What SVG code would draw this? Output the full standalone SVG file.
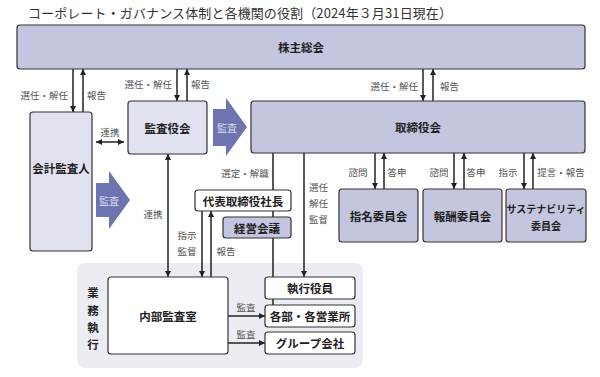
<svg xmlns="http://www.w3.org/2000/svg" width="600" height="377" viewBox="0 0 600 377">
<defs>
<style>
text{font-family:"Noto Sans CJK JP","Liberation Sans",sans-serif;}
.title{font-size:13px;fill:#333;}
.box{stroke:#333;stroke-width:1.2;}
.dark{fill:#c4c6e0;}
.light{fill:#e1e2f0;}
.white{fill:#fff;}
.bl{font-size:11.5px;font-weight:bold;fill:#222;text-anchor:middle;dominant-baseline:central;}
.sm{font-size:10px;}
.lb{font-size:9.5px;fill:#555;dominant-baseline:central;}
.c{text-anchor:middle;}
.e{text-anchor:end;}
.ln{stroke:#222;stroke-width:1.5;fill:none;}
.ar{marker-end:url(#ah);}
.ar2{marker-end:url(#ah);marker-start:url(#ah);}
.big{fill:#6e74b1;}
.bt{font-size:10px;fill:#dcdff2;text-anchor:middle;dominant-baseline:central;}
</style>
<marker id="ah" markerUnits="userSpaceOnUse" markerWidth="7" markerHeight="7" refX="6" refY="3" orient="auto-start-reverse"><path d="M0,0 L6,3 L0,6 z" fill="#222"/></marker>
</defs>
<rect width="600" height="377" fill="#fff"/>
<text class="title" x="28" y="18" textLength="424" lengthAdjust="spacing">コーポレート・ガバナンス体制と各機関の役割（2024年３月31日現在）</text>

<g id="gyomu-panel">
<rect x="77" y="263" width="286" height="105" rx="8" fill="#ececf3"/>
<text class="bl" x="93" y="292">業</text>
<text class="bl" x="93" y="310">務</text>
<text class="bl" x="93" y="327">執</text>
<text class="bl" x="93" y="344">行</text>
</g>

<g id="connectors">
<line class="ln ar" x1="73" y1="69" x2="73" y2="112"/>
<line class="ln ar" x1="83" y1="112" x2="83" y2="69"/>
<line class="ln ar" x1="177" y1="69" x2="177" y2="101"/>
<line class="ln ar" x1="187" y1="101" x2="187" y2="69"/>
<line class="ln ar" x1="423" y1="69" x2="423" y2="101"/>
<line class="ln ar" x1="433" y1="101" x2="433" y2="69"/>
<line class="ln ar2" x1="96" y1="142" x2="124" y2="142"/>
<line class="ln ar2" x1="168" y1="154" x2="168" y2="277"/>
<line class="ln" x1="273" y1="153" x2="273" y2="190"/>
<line class="ln" x1="273" y1="211" x2="273" y2="277"/>
<line class="ln" x1="273" y1="299" x2="273" y2="305"/>
<line class="ln ar" x1="304" y1="153" x2="304" y2="277"/>
<line class="ln ar" x1="202" y1="211" x2="202" y2="277"/>
<line class="ln ar" x1="211" y1="277" x2="211" y2="211"/>
<line class="ln ar" x1="228" y1="316" x2="265" y2="316"/>
<line class="ln ar" x1="228" y1="343" x2="265" y2="343"/>
<line class="ln ar" x1="375" y1="153" x2="375" y2="189"/>
<line class="ln ar" x1="384" y1="189" x2="384" y2="153"/>
<line class="ln ar" x1="454" y1="153" x2="454" y2="189"/>
<line class="ln ar" x1="464" y1="189" x2="464" y2="153"/>
<line class="ln ar" x1="524" y1="153" x2="524" y2="189"/>
<line class="ln ar" x1="533" y1="189" x2="533" y2="153"/>
<text class="lb e" x="68" y="95">選任・解任</text>
<text class="lb" x="87" y="95">報告</text>
<text class="lb e" x="172" y="84">選任・解任</text>
<text class="lb" x="191" y="84">報告</text>
<text class="lb e" x="418" y="86">選任・解任</text>
<text class="lb" x="440" y="86">報告</text>
<text class="lb c" x="110" y="132">連携</text>
<text class="lb c" x="153" y="214">連携</text>
<text class="lb c" x="245" y="173">選定・解職</text>
<text class="lb" x="309" y="187">選任</text>
<text class="lb" x="309" y="203">解任</text>
<text class="lb" x="309" y="219">監督</text>
<text class="lb c" x="187" y="235">指示</text>
<text class="lb c" x="187" y="251">監督</text>
<text class="lb c" x="226" y="251">報告</text>
<text class="lb c" x="246" y="307">監査</text>
<text class="lb c" x="246" y="334">監査</text>
<text class="lb c" x="358" y="172">諮問</text>
<text class="lb c" x="397" y="172">答申</text>
<text class="lb c" x="439" y="172">諮問</text>
<text class="lb c" x="476" y="172">答申</text>
<text class="lb c" x="508" y="172">指示</text>
<text class="lb c" x="561" y="172">提言・報告</text>
</g>

<g id="audit-arrow-1">
<polygon class="big" points="213,109 226,109 226,98 247,127 226,156 226,146 213,146"/>
<text class="bt" x="227" y="127">監査</text>
</g>
<g id="audit-arrow-2">
<polygon class="big" points="96,183 109,183 109,171 130,200 109,229 109,217 96,217"/>
<text class="bt" x="109" y="200">監査</text>
</g>

<g id="kabunushi">
<rect class="box dark" x="17" y="25" width="568" height="44" rx="3"/>
<text class="bl" x="301" y="47">株主総会</text>
</g>
<g id="kaikei">
<rect class="box light" x="30" y="112" width="62" height="139" rx="3"/>
<text class="bl" x="61" y="168">会計監査人</text>
</g>
<g id="kansayaku">
<rect class="box light" x="128" y="101" width="79" height="53" rx="3"/>
<text class="bl" x="167.5" y="128">監査役会</text>
</g>
<g id="torishimariyaku">
<rect class="box dark" x="251" y="101" width="334" height="52" rx="3"/>
<text class="bl" x="418" y="127">取締役会</text>
</g>
<g id="shimei">
<rect class="box dark" x="339" y="189" width="79" height="53" rx="3"/>
<text class="bl" x="378.5" y="216">指名委員会</text>
</g>
<g id="houshu">
<rect class="box dark" x="423" y="189" width="79" height="53" rx="3"/>
<text class="bl" x="462.5" y="216">報酬委員会</text>
</g>
<g id="sustainability">
<rect class="box dark" x="506" y="189" width="80" height="53" rx="3"/>
<text class="bl sm" x="546" y="208">サステナビリティ</text>
<text class="bl sm" x="546" y="225">委員会</text>
</g>
<g id="shacho">
<rect class="box white" x="195" y="190" width="96" height="21" rx="3"/>
<text class="bl" x="243" y="200.5">代表取締役社長</text>
</g>
<g id="keiei">
<rect class="box dark" x="223" y="217" width="68" height="21" rx="3"/>
<text class="bl" x="257" y="227.5">経営会議</text>
</g>
<g id="naibu">
<rect class="box white" x="108" y="277" width="120" height="77" rx="3"/>
<text class="bl" x="168" y="316">内部監査室</text>
</g>
<g id="shikkou">
<rect class="box white" x="265" y="277" width="90" height="22" rx="3"/>
<text class="bl" x="310" y="288">執行役員</text>
</g>
<g id="kakubu">
<rect class="box white" x="265" y="305" width="90" height="22" rx="3"/>
<text class="bl" x="310" y="316">各部・各営業所</text>
</g>
<g id="group">
<rect class="box white" x="265" y="332" width="90" height="22" rx="3"/>
<text class="bl" x="310" y="343">グループ会社</text>
</g>
</svg>
